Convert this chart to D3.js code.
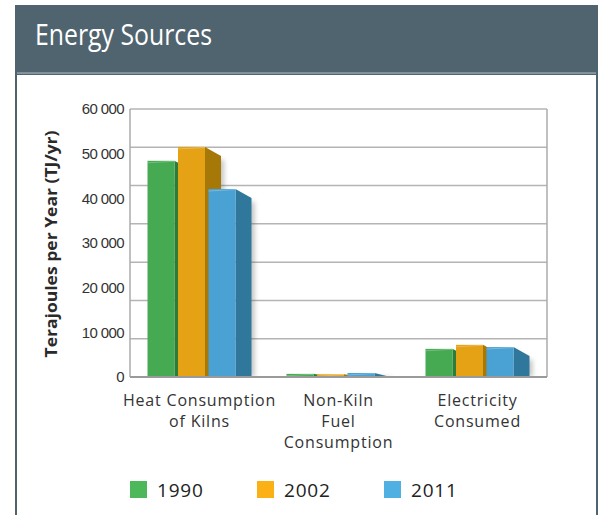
<!DOCTYPE html>
<html>
<head>
<meta charset="utf-8">
<script src="https://cdn.jsdelivr.net/npm/d3@7"></script>
<style>
  html, body { margin: 0; padding: 0; background: #ffffff; }
  svg { display: block; }
</style>
</head>
<body>
<svg id="chart" width="598" height="515"></svg>
<script>
// Energy sources by category and year (TJ/yr)
const categories = ["Heat Consumption of Kilns", "Non-Kiln Fuel Consumption", "Electricity Consumed"];
const categoryLines = [["Heat Consumption", "of Kilns"], ["Non-Kiln", "Fuel", "Consumption"], ["Electricity", "Consumed"]];
const years = ["1990", "2002", "2011"];
const values1990 = [48400, 700, 6300];
const values2002 = [51500, 600, 7200];
const values2011 = [42100, 900, 6700];
const yTicks = [0, 10000, 20000, 30000, 40000, 50000, 60000];
const yTickLabels = ["0", "10 000", "20 000", "30 000", "40 000", "50 000", "60 000"];
const chartTitle = "Energy Sources";
const yTitle = "Terajoules per Year (TJ/yr)";

const seriesValues = [values1990, values2002, values2011];
const frontColors = ["#46aa52", "#e4a214", "#4aa1d4"];
const sideColors = ["#2c7d37", "#a67808", "#30779c"];
const legendColors = ["#4cb85a", "#fbb116", "#50b0e2"];

const svg = d3.select("#chart");
const W = 598, H = 515;

// Panel frame and header
const slate = "#50646f";
svg.append("rect").attr("x", 15).attr("y", 5).attr("width", W - 15).attr("height", 67).attr("fill", slate);
svg.append("rect").attr("x", 15).attr("y", 72).attr("width", W - 15).attr("height", 1.5).attr("fill", "#7f9099");
svg.append("rect").attr("x", 15).attr("y", 73.5).attr("width", W - 15).attr("height", 1.5).attr("fill", slate);
svg.append("rect").attr("x", 15).attr("y", 72).attr("width", 2).attr("height", H - 72).attr("fill", slate);
svg.append("rect").attr("x", 596).attr("y", 72).attr("width", 2).attr("height", H - 72).attr("fill", slate);

svg.append("text")
  .attr("x", 35).attr("y", 45)
  .attr("fill", "#ffffff")
  .attr("font-family", "'Open Sans', 'Noto Sans', sans-serif")
  .attr("font-size", 28.5)
  .attr("textLength", 177)
  .attr("lengthAdjust", "spacingAndGlyphs")
  .text(chartTitle);

// Plot area
const plot = { left: 130, right: 547, top: 109, bottom: 377 };

const x = d3.scaleBand().domain(categories).range([plot.left, plot.right]).padding(0);
const y = d3.scaleLinear().domain([0, 60000]).range([plot.bottom, plot.top]);

// Gridlines: eight evenly spaced rules across the plot height
const grid = d3.scaleLinear().domain([0, 7]).range([plot.bottom, plot.top]);
svg.append("g").selectAll("line")
  .data(d3.range(8))
  .join("line")
  .attr("x1", plot.left).attr("x2", plot.right)
  .attr("y1", d => grid(d)).attr("y2", d => grid(d))
  .attr("stroke", "#b4b4b4").attr("stroke-width", 1.5);

// Plot frame
svg.append("line").attr("x1", plot.left).attr("x2", plot.left).attr("y1", plot.top).attr("y2", plot.bottom)
  .attr("stroke", "#ababab").attr("stroke-width", 1.5);
svg.append("line").attr("x1", plot.right).attr("x2", plot.right).attr("y1", plot.top).attr("y2", plot.bottom)
  .attr("stroke", "#ababab").attr("stroke-width", 1.5);

// Y axis labels
const yAxis = d3.axisLeft(y).tickValues(yTicks).tickSize(0).tickPadding(6)
  .tickFormat((d, i) => yTickLabels[i]);
const yG = svg.append("g").attr("transform", `translate(${plot.left},0)`).call(yAxis);
yG.select(".domain").remove();
yG.selectAll("text")
  .attr("font-family", "'Liberation Sans', Arial, sans-serif")
  .attr("font-size", 15)
  .attr("letter-spacing", -0.6)
  .attr("fill", "#333333");

svg.append("text")
  .attr("transform", `translate(57,${(plot.top + plot.bottom) / 2 + 1}) rotate(-90)`)
  .attr("text-anchor", "middle")
  .attr("font-family", "'Open Sans', 'Noto Sans', sans-serif")
  .attr("font-weight", "bold")
  .attr("font-size", 15.5)
  .attr("textLength", 227)
  .attr("lengthAdjust", "spacingAndGlyphs")
  .attr("fill", "#2a2a2a")
  .text(yTitle);

// 3D bars
const defs = svg.append("defs");
defs.append("filter").attr("id", "shadow").attr("x", "-50%").attr("y", "-10%").attr("width", "200%").attr("height", "120%")
  .append("feGaussianBlur").attr("stdDeviation", 2.5);
defs.append("clipPath").attr("id", "plotClip")
  .append("rect").attr("x", plot.left).attr("y", plot.top - 20).attr("width", plot.right - plot.left).attr("height", plot.bottom - plot.top + 20);

const barW = 27, step = 30.5, depth = 16, drop = 9;
const groupSpan = step * (years.length - 1) + barW + depth;

const bars = [];
categories.forEach((c, ci) => {
  const start = x(c) + x.bandwidth() / 2 - groupSpan / 2;
  years.forEach((yr, si) => {
    bars.push({ c, si, v: seriesValues[si][ci], x0: start + si * step });
  });
});

const barsG = svg.append("g").attr("clip-path", "url(#plotClip)");

// soft shadow behind each bar
barsG.append("g").attr("filter", "url(#shadow)").attr("opacity", 0.35)
  .selectAll("polygon").data(bars).join("polygon")
  .attr("points", d => {
    const t = y(d.v), b = y(0);
    const xs = d.x0 + barW, xe = xs + depth + 3;
    return [[xs, t + drop + 2], [xe, Math.min(t + drop + 4, b)], [xe, b], [xs, b]].map(p => p.join(",")).join(" ");
  })
  .attr("fill", "#555");

const barG = barsG.selectAll("g.bar").data(bars).join("g").attr("class", "bar");

barG.append("polygon")
  .attr("points", d => {
    const t = y(d.v), b = y(0);
    const xs = d.x0 + barW, xe = xs + depth;
    return [[xs, t], [xe, Math.min(t + drop, b)], [xe, b], [xs, b]].map(p => p.join(",")).join(" ");
  })
  .attr("fill", d => sideColors[d.si]);

barG.append("rect")
  .attr("x", d => d.x0).attr("y", d => y(d.v))
  .attr("width", barW).attr("height", d => y(0) - y(d.v))
  .attr("fill", d => frontColors[d.si]);

// slight highlight on the front top edge
barG.append("polygon")
  .attr("points", d => {
    const t = y(d.v);
    return [[d.x0, t + 1.5], [d.x0 + barW, t], [d.x0 + barW, t + 1], [d.x0, t + 2.5]].map(p => p.join(",")).join(" ");
  })
  .attr("fill", "#ffffff").attr("opacity", 0.25);

// Baseline
svg.append("line").attr("x1", plot.left).attr("x2", plot.right).attr("y1", plot.bottom).attr("y2", plot.bottom)
  .attr("stroke", "#9a9a9a").attr("stroke-width", 2);

// X axis category labels
const xAxis = d3.axisBottom(x).tickSize(0).tickFormat(() => "");
const xG = svg.append("g").attr("transform", `translate(0,${plot.bottom})`).call(xAxis);
xG.select(".domain").remove();
xG.selectAll(".tick text").remove();
xG.selectAll(".tick").each(function(c, i) {
  const t = d3.select(this).append("text")
    .attr("text-anchor", "middle")
    .attr("font-family", "'Open Sans', 'Noto Sans', sans-serif")
    .attr("font-size", 16)
    .attr("letter-spacing", 0.8)
    .attr("fill", "#333333");
  categoryLines[i].forEach((line, li) => {
    t.append("tspan").attr("x", 0).attr("y", 29 + li * 21).text(line);
  });
});

// Legend
const legend = svg.append("g").attr("transform", "translate(130,481)");
const lg = legend.selectAll("g").data(years).join("g")
  .attr("transform", (d, i) => `translate(${i * 127},0)`);
lg.append("rect").attr("width", 17).attr("height", 17).attr("fill", (d, i) => legendColors[i]);
lg.append("text")
  .attr("x", 27).attr("y", 16)
  .attr("font-family", "'Open Sans', 'Noto Sans', sans-serif")
  .attr("font-size", 19)
  .attr("letter-spacing", 0.8)
  .attr("fill", "#222222")
  .text(d => d);
</script>
</body>
</html>
